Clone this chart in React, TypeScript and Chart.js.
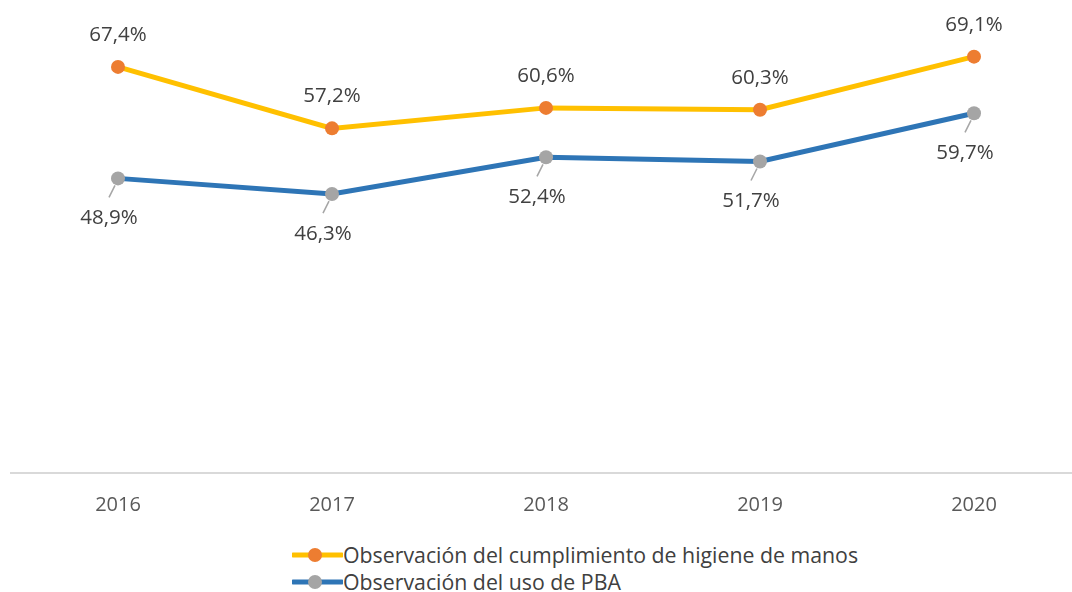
import React, { useEffect, useRef } from "react";
import { Chart, registerables } from "chart.js";

Chart.register(...registerables);

const years = ["2016", "2017", "2018", "2019", "2020"];
const higieneManos = [67.4, 57.2, 60.6, 60.3, 69.1];
const usoPBA = [48.9, 46.3, 52.4, 51.7, 59.7];
const seriesNames = [
  "Observación del cumplimiento de higiene de manos",
  "Observación del uso de PBA",
];

const FONT = "'Open Sans', 'Noto Sans', sans-serif";
const TEXT = "#404040";

const fmt = (v: number) => v.toFixed(1).replace(".", ",") + "%";

const labelPlugin = {
  id: "pointLabels",
  afterDatasetsDraw(chart: any) {
    const ctx = chart.ctx;
    ctx.save();
    ctx.font = `20.5px ${FONT}`;
    ctx.fillStyle = TEXT;
    ctx.textAlign = "center";
    ctx.textBaseline = "middle";
    chart.data.datasets.forEach((ds: any, di: number) => {
      const meta = chart.getDatasetMeta(di);
      meta.data.forEach((pt: any, i: number) => {
        const v = ds.data[i];
        if (di === 0) {
          ctx.fillText(fmt(v), pt.x, pt.y - 32);
        } else {
          ctx.strokeStyle = "#A6A6A6";
          ctx.lineWidth = 1.5;
          ctx.beginPath();
          ctx.moveTo(pt.x - 3, pt.y + 7);
          ctx.lineTo(pt.x - 9, pt.y + 19);
          ctx.stroke();
          ctx.fillText(fmt(v), pt.x - 9, pt.y + 40);
        }
      });
    });
    ctx.restore();
  },
};

function LegendRow({ line, dot, text }: { line: string; dot: string; text: string }) {
  return (
    <div style={{ display: "flex", alignItems: "center", height: 27 }}>
      <svg width={51} height={20} style={{ flex: "none" }}>
        <line x1={1} y1={10} x2={50} y2={10} stroke={line} strokeWidth={5} strokeLinecap="round" />
        <circle cx={23} cy={10} r={7} fill={dot} />
      </svg>
      <span style={{ fontFamily: FONT, fontSize: 21.3, color: TEXT, whiteSpace: "nowrap" }}>{text}</span>
    </div>
  );
}

export default function App() {
  const ref = useRef<HTMLCanvasElement>(null);
  useEffect(() => {
    if (!ref.current) return;
    const chart = new Chart(ref.current, {
      type: "line",
      data: {
        labels: years,
        datasets: [
          {
            label: seriesNames[0],
            data: higieneManos,
            borderColor: "#FFC000",
            backgroundColor: "#ED7D31",
            pointBackgroundColor: "#ED7D31",
            pointBorderColor: "#ED7D31",
            borderWidth: 5,
            pointRadius: 7,
            pointBorderWidth: 0,
            tension: 0,
          },
          {
            label: seriesNames[1],
            data: usoPBA,
            borderColor: "#2E75B6",
            backgroundColor: "#A5A5A5",
            pointBackgroundColor: "#A5A5A5",
            pointBorderColor: "#A5A5A5",
            borderWidth: 5,
            pointRadius: 7,
            pointBorderWidth: 0,
            tension: 0,
          },
        ],
      },
      options: {
        animation: false,
        responsive: false,
        maintainAspectRatio: false,
        layout: { padding: { left: 11, right: 9, top: 0, bottom: 0 } },
        plugins: { legend: { display: false }, tooltip: { enabled: false } },
        scales: {
          x: {
            offset: true,
            grid: { display: false, drawTicks: false },
            border: { display: true, color: "#D9D9D9", width: 2 },
            ticks: { color: "#595959", font: { family: FONT, size: 20 }, padding: 20 },
            afterFit: (s: any) => {
              s.height = 60;
            },
          },
          y: {
            display: false,
            min: 0,
            max: 80,
          },
        },
      },
      plugins: [labelPlugin],
    });
    return () => chart.destroy();
  }, []);

  return (
    <div style={{ position: "fixed", inset: 0, overflow: "hidden", background: "#fff" }}>
      <div style={{ position: "absolute", left: 0, top: -16, width: 1090, height: 549 }}>
        <canvas ref={ref} width={1090} height={549} style={{ display: "block" }} />
      </div>
      <div style={{ position: "absolute", left: 292, top: 541 }}>
        <LegendRow line="#FFC000" dot="#ED7D31" text={seriesNames[0]} />
        <LegendRow line="#2E75B6" dot="#A5A5A5" text={seriesNames[1]} />
      </div>
    </div>
  );
}
